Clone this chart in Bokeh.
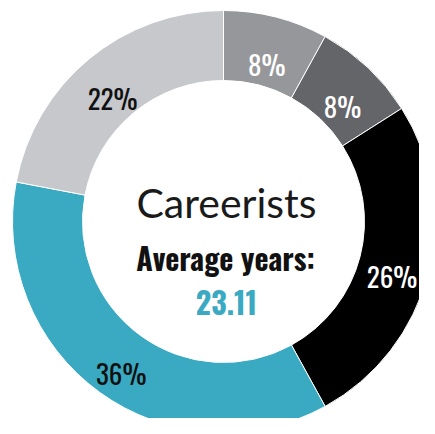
import numpy as np
from bokeh.plotting import figure
from bokeh.models import ColumnDataSource
from bokeh.core.properties import value
from bokeh.embed import file_html
from bokeh.resources import INLINE

# Data (clockwise from 12 o'clock)
categories = ["A", "B", "C", "D", "E"]
shares = [8, 8, 26, 36, 22]
labels = ["8%", "8%", "26%", "36%", "22%"]
colors = ["#96979a", "#646569", "#000000", "#3aaac3", "#c6c8cb"]
label_colors = ["#ffffff", "#ffffff", "#ffffff", "#111111", "#111111"]
title_text = "Careerists"
subtitle_text = "Average years:"
avg_text = "23.11"

W, H = 419, 418
cx, cy = 223, 197          # data coords (1 unit = 1 px)
r_in, r_out = 141, 211
r_lab = 174

frac = np.array(shares, dtype=float) / sum(shares)
cum_end = np.cumsum(frac)
cum_start = cum_end - frac
start = np.pi / 2 - cum_start * 2 * np.pi
end = np.pi / 2 - cum_end * 2 * np.pi
mid = (start + end) / 2

src = ColumnDataSource(dict(
    start=start, end=end, color=colors,
    lx=cx + r_lab * np.cos(mid), ly=cy + r_lab * np.sin(mid) - 11,
    label=labels, lcolor=label_colors,
))

p = figure(width=W, height=H, x_range=(0, W), y_range=(0, H),
           output_backend="svg", toolbar_location=None, min_border=0)
p.axis.visible = False
p.grid.visible = False
p.outline_line_color = None
p.background_fill_color = "white"
p.border_fill_color = "white"

p.annular_wedge(x=cx, y=cy, inner_radius=r_in, outer_radius=r_out,
                start_angle="start", end_angle="end", direction="clock",
                fill_color="color", line_color="white", line_width=1, source=src)

osw = value("Oswald")
p.text(x="lx", y="ly", text="label", text_color="lcolor", source=src,
       text_font=osw, text_font_size="27px", text_align="center",
       text_baseline="alphabetic")

p.text(x=[226], y=[216], text=[title_text], text_font=value("Lato"),
       text_font_size="41px", text_color="#1a1a1a", text_align="center",
       text_baseline="alphabetic")
p.text(x=[225], y=[161], text=[subtitle_text], text_font=osw,
       text_font_style="bold", text_font_size="30px", text_color="#111111",
       text_align="center", text_baseline="alphabetic")
p.text(x=[226], y=[116], text=[avg_text], text_font=osw,
       text_font_style="bold", text_font_size="30px", text_color="#3aaac3",
       text_align="center", text_baseline="alphabetic")

open("out.html", "w").write(file_html(p, INLINE))
